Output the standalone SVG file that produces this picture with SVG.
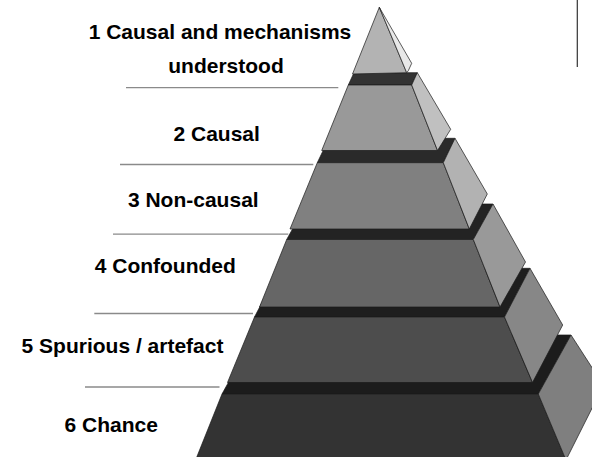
<svg xmlns="http://www.w3.org/2000/svg" width="592" height="457" viewBox="0 0 592 457">
<style>
.face{stroke:#1a1a1a;stroke-width:0.7;stroke-linejoin:round}
.lbl{font-family:"Liberation Sans",Arial,sans-serif;font-weight:bold;font-size:21px;fill:#000;text-anchor:middle}
.sep{stroke:#8a8a8a;stroke-width:1.3;fill:none}
</style>
<rect width="592" height="457" fill="#fff"/>
<g id="tier6">
<polygon class="face" fill="#1c1c1c" points="222,394 538.3,394 571,335 254.7,335"/>
<polygon class="face" fill="#333333" points="222,394 538.3,394 566,460 195.6,460"/>
<polygon class="face" fill="#7f7f7f" points="538.3,394 571,335 603.5,385.4 566,460"/>
<text class="lbl" x="111.3" y="431.7">6 Chance</text>
</g>
<g id="tier5">
<polygon class="face" fill="#1e1e1e" points="254.5,317 504.5,317 530,268.3 280,268.3"/>
<polygon class="face" fill="#4d4d4d" points="254.5,317 504.5,317 532.5,382.5 227.5,382.5"/>
<polygon class="face" fill="#878787" points="504.5,317 530,268.3 562.7,325 532.5,382.5"/>
<text class="lbl" x="122.5" y="353.3">5 Spurious / artefact</text>
</g>
<g id="tier4">
<polygon class="face" fill="#232323" points="286.7,239.5 473.3,239.5 493,204 306.4,204"/>
<polygon class="face" fill="#666666" points="286.7,239.5 473.3,239.5 500,307 259.5,307"/>
<polygon class="face" fill="#999999" points="473.3,239.5 493,204 525.5,262 500,307"/>
<text class="lbl" x="165.3" y="273.3">4 Confounded</text>
</g>
<g id="tier3">
<polygon class="face" fill="#2a2a2a" points="317.3,162.7 443.3,162.7 455,138.3 329,138.3"/>
<polygon class="face" fill="#808080" points="317.3,162.7 443.3,162.7 469.3,229 290,229"/>
<polygon class="face" fill="#b2b2b2" points="443.3,162.7 455,138.3 487.3,194 469.3,229"/>
<text class="lbl" x="193.3" y="207.3">3 Non-causal</text>
</g>
<g id="tier2">
<polygon class="face" fill="#333333" points="348.3,85 411.7,85 417.3,72.7 354,72.7"/>
<polygon class="face" fill="#999999" points="348.3,85 411.7,85 437.5,150.5 321.7,150.5"/>
<polygon class="face" fill="#c0c0c0" points="411.7,85 417.3,72.7 450.7,129.3 437.5,150.5"/>
<text class="lbl" x="216.7" y="140.5">2 Causal</text>
</g>
<g id="tier1">
<polygon class="face" fill="#b3b3b3" points="379.3,7.3 406.7,72.7 352.5,74"/>
<polygon class="face" fill="#e8e8e8" points="379.3,7.3 411.7,63.3 408.3,70.7 406.7,72.7"/>
<text class="lbl" x="220" y="39.3">1 Causal and mechanisms</text>
<text class="lbl" x="226" y="72.7">understood</text>
</g>
<g id="separators">
<line class="sep" x1="126" y1="87.7" x2="338.3" y2="87.7"/>
<line class="sep" x1="120" y1="164.5" x2="313.3" y2="164.5"/>
<line class="sep" x1="113" y1="234.2" x2="288.3" y2="234.2"/>
<line class="sep" x1="94.3" y1="313.5" x2="253" y2="313.5"/>
<line class="sep" x1="85" y1="387" x2="219.5" y2="387"/>
<line x1="577.3" y1="0" x2="577.3" y2="67" stroke="#333" stroke-width="1.2"/>
</g>
</svg>
